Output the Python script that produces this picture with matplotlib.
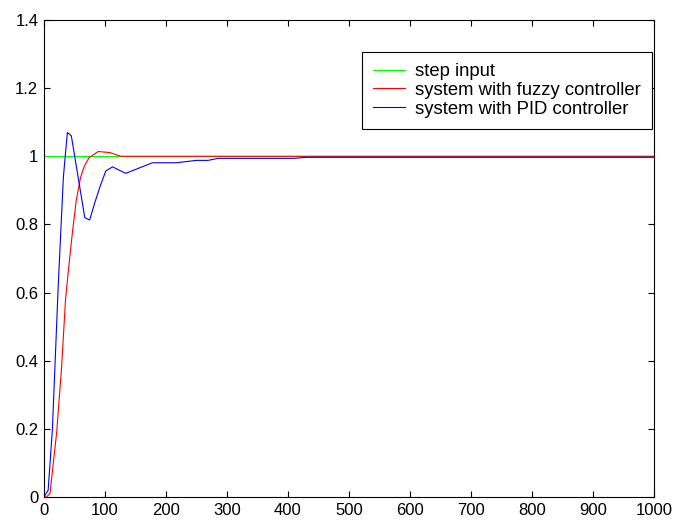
import matplotlib
matplotlib.use("Agg")
import matplotlib.pyplot as plt

plt.rcParams['font.family'] = ['Liberation Sans', 'DejaVu Sans']

# step input
step_t = [0, 1000]
step_y = [1, 1]

# system with fuzzy controller
fuzzy_t = [0, 4, 10, 21, 29, 35.5, 41, 47, 53, 60, 66, 74, 89, 108, 126, 1000]
fuzzy_y = [0, 0, 0.01, 0.19, 0.38, 0.58, 0.68, 0.78, 0.87, 0.937, 0.97, 0.996,
           1.014, 1.011, 1.0, 1.0]

# system with PID controller
pid_t = [0, 7, 14, 23.5, 32, 38.5, 45, 67, 75, 83.5, 92, 101.5, 112.5, 134,
         178, 217, 250, 269, 286, 410, 430, 1000]
pid_y = [0, 0.02, 0.2, 0.62, 0.94, 1.07, 1.06, 0.82, 0.813, 0.864, 0.911,
         0.957, 0.969, 0.95, 0.981, 0.981, 0.988, 0.988, 0.994, 0.994, 0.997,
         0.997]

fig = plt.figure(figsize=(6.75, 5.25), dpi=100)
ax = fig.add_axes([0.065, 0.0533, 0.904, 0.9086])

ax.plot(step_t, step_y, color='#00ff00', lw=0.8, label='step input')
ax.plot(fuzzy_t, fuzzy_y, color='#ff0000', lw=0.8, label='system with fuzzy controller')
ax.plot(pid_t, pid_y, color='#0000ff', lw=0.8, label='system with PID controller')

ax.set_xlim(0, 1000)
ax.set_ylim(0, 1.4)
ax.set_xticks(range(0, 1001, 100))
ax.set_yticks([0, 0.2, 0.4, 0.6, 0.8, 1, 1.2, 1.4])
ax.set_yticklabels(['0', '0.2', '0.4', '0.6', '0.8', '1', '1.2', '1.4'])
ax.tick_params(direction='in', top=True, right=True, length=4, width=0.8,
               labelsize=12, pad=4)
for s in ax.spines.values():
    s.set_linewidth(0.8)

# legend box sits just inside the top right corner
leg = ax.legend(loc='upper right', bbox_to_anchor=(0.997, 0.933), fontsize=13.3,
                fancybox=False, framealpha=1, edgecolor='black',
                borderaxespad=0, handlelength=1.75, handletextpad=0.55,
                borderpad=0.6, labelspacing=0.1)
leg.get_frame().set_linewidth(0.8)

fig.savefig('out.png', dpi=100)
